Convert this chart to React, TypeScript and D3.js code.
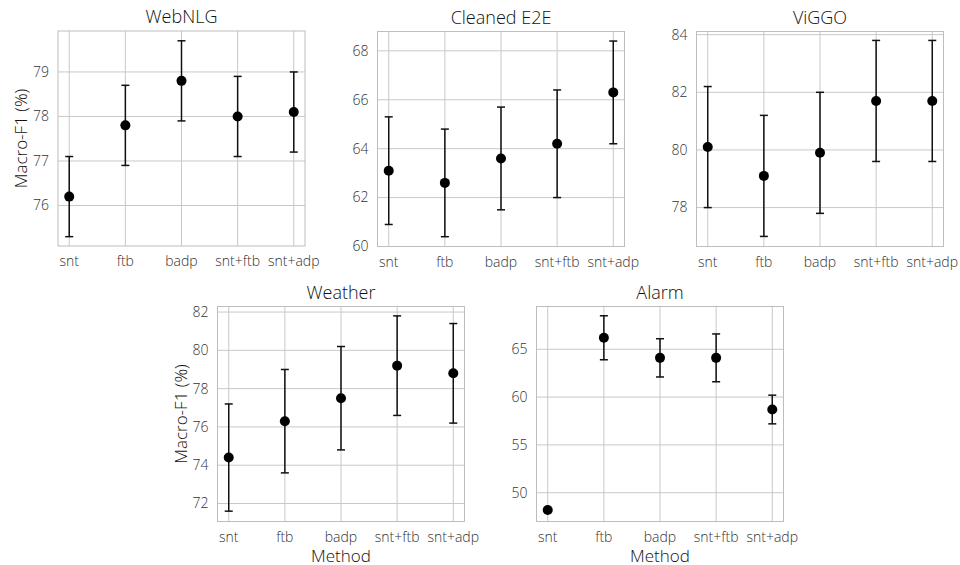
import React from "react";
import * as d3 from "d3";

// method categories shared by every panel
const methods = ["snt", "ftb", "badp", "snt+ftb", "snt+adp"];

// WebNLG
const webnlgMean = [76.2, 77.8, 78.8, 78.0, 78.1];
const webnlgLow = [75.3, 76.9, 77.9, 77.1, 77.2];
const webnlgHigh = [77.1, 78.7, 79.7, 78.9, 79.0];
const webnlgTicks = [76, 77, 78, 79];
const webnlgDomain = [75.09, 79.92];

// Cleaned E2E
const e2eMean = [63.1, 62.6, 63.6, 64.2, 66.3];
const e2eLow = [60.9, 60.4, 61.5, 62.0, 64.2];
const e2eHigh = [65.3, 64.8, 65.7, 66.4, 68.4];
const e2eTicks = [60, 62, 64, 66, 68];
const e2eDomain = [60, 68.79];

// ViGGO
const viggoMean = [80.1, 79.1, 79.9, 81.7, 81.7];
const viggoLow = [78.0, 77.0, 77.8, 79.6, 79.6];
const viggoHigh = [82.2, 81.2, 82.0, 83.8, 83.8];
const viggoTicks = [78, 80, 82, 84];
const viggoDomain = [76.65, 84.11];

// Weather
const weatherMean = [74.4, 76.3, 77.5, 79.2, 78.8];
const weatherLow = [71.6, 73.6, 74.8, 76.6, 76.2];
const weatherHigh = [77.2, 79.0, 80.2, 81.8, 81.4];
const weatherTicks = [72, 74, 76, 78, 80, 82];
const weatherDomain = [71.06, 82.29];

// Alarm
const alarmMean = [48.2, 66.2, 64.1, 64.1, 58.7];
const alarmLow = [48.2, 63.9, 62.1, 61.6, 57.2];
const alarmHigh = [48.2, 68.5, 66.1, 66.6, 60.2];
const alarmTicks = [50, 55, 60, 65];
const alarmDomain = [46.99, 69.47];

const FONT = "'Open Sans', sans-serif";

type PanelProps = {
  title: string;
  mean: number[];
  low: number[];
  high: number[];
  ticks: number[];
  domain: number[];
  left: number;
  top: number;
  ylabel?: boolean;
  xlabel?: boolean;
};

function Panel({ title, mean, low, high, ticks, domain, left, top, ylabel, xlabel }: PanelProps) {
  const w = 247;
  const h = 215;
  const x = d3.scalePoint<string>().domain(methods).range([left, left + w]).padding(0.2);
  const y = d3.scaleLinear().domain(domain).range([top + h, top]);

  return (
    <g>
      {/* grid */}
      {methods.map((m) => (
        <line key={"v" + m} x1={x(m)} x2={x(m)} y1={top} y2={top + h} stroke="#c8c8c8" strokeWidth={1} />
      ))}
      {ticks.map((t) => (
        <line key={"h" + t} x1={left} x2={left + w} y1={y(t)} y2={y(t)} stroke="#c8c8c8" strokeWidth={1} />
      ))}
      <rect x={left} y={top} width={w} height={h} fill="none" stroke="#bdbdbd" strokeWidth={1} />

      {/* tick labels */}
      {ticks.map((t) => (
        <text key={"yt" + t} x={left - 9} y={y(t)} dy="0.35em" textAnchor="end" fontSize={14} fontWeight={300} fill="#333">
          {t}
        </text>
      ))}
      {methods.map((m) => (
        <text key={"xt" + m} x={x(m)} y={top + h + 20} textAnchor="middle" fontSize={14} fontWeight={300} fill="#333">
          {m}
        </text>
      ))}

      {/* error bars + points */}
      {methods.map((m, i) => {
        const cx = x(m)!;
        const hasErr = high[i] - low[i] > 0;
        return (
          <g key={"e" + m}>
            {hasErr && (
              <g stroke="#111" strokeWidth={1.5}>
                <line x1={cx} x2={cx} y1={y(low[i])} y2={y(high[i])} />
                <line x1={cx - 4} x2={cx + 4} y1={y(low[i])} y2={y(low[i])} />
                <line x1={cx - 4} x2={cx + 4} y1={y(high[i])} y2={y(high[i])} />
              </g>
            )}
            <circle cx={cx} cy={y(mean[i])} r={5} fill="#000" />
          </g>
        );
      })}

      <text x={left + w / 2} y={top - 8} textAnchor="middle" fontSize={18} fontWeight={300} fill="#111">
        {title}
      </text>
      {ylabel && (
        <text
          transform={`translate(${left - 31},${top + h / 2}) rotate(-90)`}
          textAnchor="middle"
          fontSize={17}
          fontWeight={300}
          fill="#111"
        >
          Macro-F1 (%)
        </text>
      )}
      {xlabel && (
        <text x={left + w / 2} y={top + h + 40} textAnchor="middle" fontSize={17} fontWeight={300} fill="#111">
          Method
        </text>
      )}
    </g>
  );
}

export default function App() {
  return (
    <svg
      width={960}
      height={565}
      style={{ position: "absolute", left: 0, top: 0, fontFamily: FONT, background: "#fff" }}
    >
      <Panel title="WebNLG" mean={webnlgMean} low={webnlgLow} high={webnlgHigh} ticks={webnlgTicks} domain={webnlgDomain} left={58} top={31} ylabel />
      <Panel title="Cleaned E2E" mean={e2eMean} low={e2eLow} high={e2eHigh} ticks={e2eTicks} domain={e2eDomain} left={377.5} top={31.5} />
      <Panel title="ViGGO" mean={viggoMean} low={viggoLow} high={viggoHigh} ticks={viggoTicks} domain={viggoDomain} left={696.5} top={31.5} />
      <Panel title="Weather" mean={weatherMean} low={weatherLow} high={weatherHigh} ticks={weatherTicks} domain={weatherDomain} left={217.5} top={306.5} ylabel xlabel />
      <Panel title="Alarm" mean={alarmMean} low={alarmLow} high={alarmHigh} ticks={alarmTicks} domain={alarmDomain} left={536.5} top={306.5} xlabel />
    </svg>
  );
}
